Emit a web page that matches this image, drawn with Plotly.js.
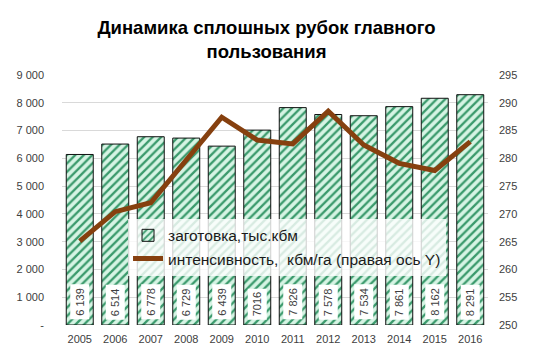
<!DOCTYPE html>
<html>
<head>
<meta charset="utf-8">
<script src="https://cdn.plot.ly/plotly-3.0.1.min.js"></script>
<style>html,body{margin:0;padding:0;background:#fff;}#chart{width:533px;height:353px;}</style>
</head>
<body>
<div id="chart"></div>
<script>
var years = [2005, 2006, 2007, 2008, 2009, 2010, 2011, 2012, 2013, 2014, 2015, 2016];
var harvest = [6139, 6514, 6778, 6729, 6439, 7016, 7826, 7578, 7534, 7861, 8162, 8291];
var harvestLabels = ['6 139','6 514','6 778','6 729','6 439','7016','7 826','7 578','7 534','7 861','8 162','8 291'];
var intensity = [265.1, 270.4, 272.0, 279.7, 287.4, 283.3, 282.6, 288.5, 282.4, 279.1, 277.8, 283.0];
var leftTickVals = [0,1000,2000,3000,4000,5000,6000,7000,8000,9000];
var leftTickText = ['-','1 000','2 000','3 000','4 000','5 000','6 000','7 000','8 000','9 000'];

var font = 'Liberation Sans, Arial, sans-serif';

var traces = [
  {
    type: 'bar', x: years, y: harvest, name: 'заготовка,тыс.кбм',
    width: 0.76,
    marker: {
      color: '#d6f4e4',
      pattern: {shape: '/', fgcolor: '#3a9a6c', bgcolor: '#d6f4e4', size: 6, solidity: 0.38},
      line: {color: '#111', width: 1}
    },
    hoverinfo: 'skip'
  },
  {
    type: 'scatter', mode: 'lines', x: years, y: intensity, yaxis: 'y2',
    name: 'интенсивность,  кбм/га (правая ось Y)',
    line: {color: '#86400f', width: 5},
    hoverinfo: 'skip'
  }
];

var annotations = years.map(function(yr, i){
  return {
    x: yr, y: 0, xref: 'x', yref: 'y', yanchor: 'bottom', xanchor: 'center',
    text: harvestLabels[i], textangle: -90, showarrow: false, yshift: 5,
    bgcolor: '#ffffff', borderpad: 3,
    font: {family: font, size: 11, color: '#404040'}
  };
});

var layout = {
  width: 533, height: 353,
  margin: {l: 62, r: 45, t: 75, b: 28},
  paper_bgcolor: '#ffffff', plot_bgcolor: '#ffffff',
  title: {
    text: '<b>Динамика сплошных рубок главного<br>пользования</b>',
    font: {family: font, size: 18.5, color: '#000'},
    x: 0.5, xanchor: 'center', y: 0.905, yanchor: 'top'
  },
  xaxis: {
    range: [2004.5, 2016.5], dtick: 1, tick0: 2005, showgrid: false, zeroline: false, showline: false,
    ticks: '', ticklabelstandoff: 6, tickfont: {family: font, size: 11, color: '#404040'}
  },
  yaxis: {
    range: [0, 9000], tickvals: leftTickVals, ticktext: leftTickText,
    showgrid: true, gridcolor: '#d9d9d9', gridwidth: 1, zeroline: false,
    showline: false, ticks: '', ticklabelstandoff: 17,
    tickfont: {family: font, size: 11, color: '#404040'}
  },
  yaxis2: {
    overlaying: 'y', side: 'right', range: [250, 295], dtick: 5,
    showgrid: false, zeroline: false, showline: false, ticks: '', ticklabelstandoff: 10,
    tickfont: {family: font, size: 11, color: '#404040'}
  },
  showlegend: true,
  legend: {
    x: 0.155, y: 0.425, xanchor: 'left', yanchor: 'top',
    bgcolor: 'rgba(255,255,255,0.8)', borderwidth: 0,
    font: {family: font, size: 15.5, color: '#1a1a1a'},
    tracegroupgap: 0
  },
  annotations: annotations
};

Plotly.newPlot('chart', traces, layout, {displayModeBar: false, staticPlot: true});
</script>
</body>
</html>
